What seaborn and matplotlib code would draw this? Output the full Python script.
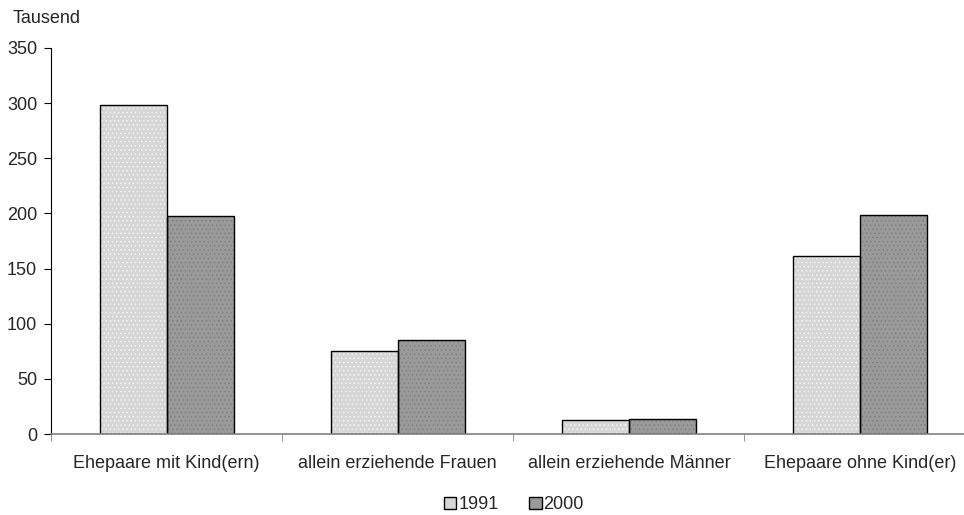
import matplotlib
matplotlib.use("Agg")
import matplotlib.pyplot as plt
import seaborn as sns
import pandas as pd
import copy
from matplotlib.ticker import FixedLocator

categories = ["Ehepaare mit Kind(ern)", "allein erziehende Frauen",
              "allein erziehende Männer", "Ehepaare ohne Kind(er)"]
years = ["1991", "2000"]
values_1991 = [298, 75, 13, 161]
values_2000 = [198, 85, 14, 199]

df = pd.DataFrame({
    "Kategorie": categories * 2,
    "Jahr": [years[0]] * 4 + [years[1]] * 4,
    "Wert": values_1991 + values_2000,
})

sns.set_style("white")
plt.rcParams["font.family"] = ["Liberation Sans", "DejaVu Sans"]
plt.rcParams["hatch.linewidth"] = 0.6
fs = 13

fig = plt.figure(figsize=(9.64, 5.15), dpi=100)
# axis runs a bit past the right edge like in the original
ax = fig.add_axes([0.053, 0.157, 0.959, 0.75])

face = {"1991": "#d6d6d6", "2000": "#9a9a9a"}
dots = {"1991": "#f4f4f4", "2000": "#808080"}

sns.barplot(data=df, x="Kategorie", y="Wert", hue="Jahr",
            palette=[face[y] for y in years], width=0.58,
            edgecolor="black", linewidth=1, ax=ax, legend=True)

# dotted fill: hatch in dot colour, then a plain black outline on top
for cont, yr in zip(ax.containers, years):
    for bar in cont:
        outline = copy.copy(bar)
        bar.set_hatch("....")
        bar.set_edgecolor(dots[yr])
        bar.set_linewidth(0)
        outline.set_facecolor("none")
        outline.set_hatch(None)
        ax.add_patch(outline)

ax.set_ylim(0, 350)
ax.set_xlim(-0.5, 3.5)
ax.set_yticks(range(0, 351, 50))
ax.set_xlabel("")
ax.set_ylabel("")
ax.tick_params(axis="x", which="major", length=0, pad=15, labelsize=fs)
ax.xaxis.set_minor_locator(FixedLocator([-0.5, 0.5, 1.5, 2.5]))
ax.tick_params(axis="x", which="minor", length=5, color="#808080", bottom=True)
ax.tick_params(axis="y", length=5, color="black", left=True, labelsize=fs, pad=5)
for s in ["top", "right"]:
    ax.spines[s].set_visible(False)
ax.spines["left"].set_color("black")
ax.spines["bottom"].set_color("#808080")
ax.spines["bottom"].set_linewidth(1.2)

handles, labels = ax.get_legend_handles_labels()
ax.get_legend().remove()
fig.legend(handles, labels, loc="center", bbox_to_anchor=(0.533, 0.02),
           ncol=2, frameon=False, handlelength=0.7, handleheight=0.7,
           handletextpad=0.1, columnspacing=1.7, fontsize=fs)

fig.text(0.013, 0.965, "Tausend", fontsize=fs, va="center")

fig.savefig("out.png", dpi=100)
